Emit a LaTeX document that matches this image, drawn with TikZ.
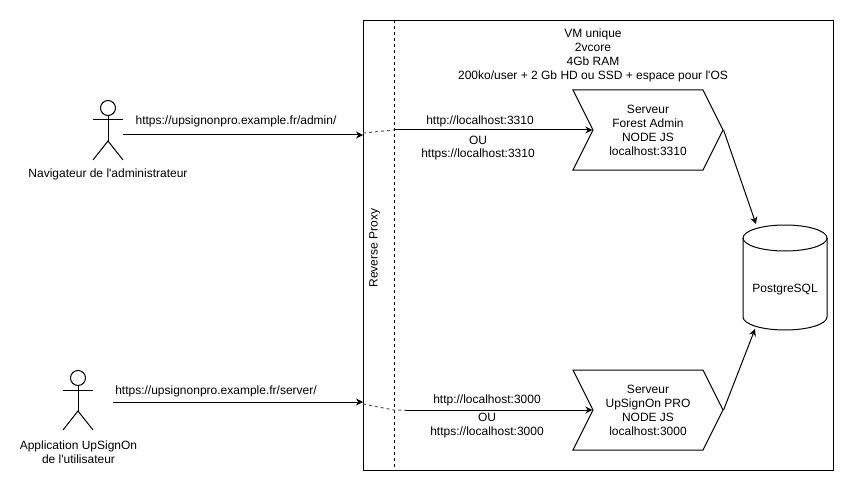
\documentclass[tikz,border=0pt]{standalone}
\usepackage{fontspec}
\setmainfont{Liberation Sans}
\usetikzlibrary{arrows.meta}
\usetikzlibrary{shapes.symbols}

\tikzset{
    txt/.style={align=center, inner sep=0pt, font=\fontsize{12}{14}\selectfont},
    lbl/.style={txt, yshift=-0.7pt},
    server/.style={txt, draw, shape=signal, signal from=west, signal to=east, signal pointer angle=126.87, minimum width=150pt, minimum height=80pt},
    database/.style={txt, minimum width=84pt, minimum height=79pt},
    link/.style={-{Stealth[length=7pt,width=7pt]}},
    proxy/.style={dash pattern=on 3pt off 3pt, gray!70!black},
    actor/.pic={
        \draw (0,-8) circle (7.5pt);
        \draw (0,0) -- (0,25);
        \draw (-15,4) -- (15,4);
        \draw (-15,44) -- (0,25) -- (15,44);
    }
}

\begin{document}
\begin{tikzpicture}[x=1pt,y=-1pt,line width=1pt]
    \useasboundingbox (0,0) rectangle (854,492);

    % vm box and proxy line
    \node[draw, minimum width=470pt, minimum height=450pt, anchor=north west] (vm) at (363,20) {};
    \coordinate (proxyTop) at (394,20);
    \coordinate (proxyBottom) at (394,470);
    \draw[dash pattern=on 3pt off 3pt] (proxyTop) -- (proxyBottom);
    \node[txt, rotate=90] (proxyLabel) at (374.7,248) {Reverse Proxy};
    \node[lbl] (vmLabel) at (593,55) {VM unique\\2vcore\\4Gb RAM\\200ko/user + 2 Gb HD ou SSD + espace pour l\textquotesingle OS};

    % actors
    \pic at (108,116) {actor};
    \pic at (78,386) {actor};
    \node[lbl] (adminLabel) at (108,174) {Navigateur de l\textquotesingle administrateur};
    \node[lbl] (userLabel) at (78.5,451.5) {Application UpSignOn\\de l\textquotesingle utilisateur};

    % servers and database
    \node[server] (forest) at (648,130) {Serveur\\Forest Admin\\NODE JS\\localhost:3310};
    \node[server] (upsignon) at (648,410) {Serveur\\UpSignOn PRO\\NODE JS\\localhost:3000};
    \node[database] (db) at (785,290) {PostgreSQL};
    \draw (785,238) ellipse (42pt and 13pt);
    \draw (743,238) -- (743,317) arc[start angle=180, end angle=360, x radius=42pt, y radius=13pt] -- (827,238);

    % admin side
    \coordinate (adminOut) at (123,135);
    \coordinate (adminIn) at (363,135);
    \coordinate (adminEdge) at (363,133);
    \coordinate (adminProxy) at (394,130);
    \draw[link] (adminOut) -- (adminIn);
    \draw[proxy] (adminEdge) -- (adminProxy);
    \draw[link] (adminProxy) -- (forest.west);
    \node[lbl] (adminUrl) at (236,121) {https://upsignonpro.example.fr/admin/};
    \node[lbl] (forestHttp) at (480,121) {http://localhost:3310};
    \node[lbl] (forestOu) at (478,140) {OU};
    \node[lbl] (forestHttps) at (478,154) {https://localhost:3310};

    % user side
    \coordinate (userOut) at (113,402);
    \coordinate (userIn) at (363,402);
    \coordinate (userEdge) at (363,404);
    \coordinate (userProxy) at (405,410);
    \draw[link] (userOut) -- (userIn);
    \draw[proxy] (userEdge) -- (394,410) -- (userProxy);
    \draw[link] (userProxy) -- (upsignon.west);
    \node[lbl] (userUrl) at (216,391) {https://upsignonpro.example.fr/server/};
    \node[lbl] (upsignonHttp) at (487,400) {http://localhost:3000};
    \node[lbl] (upsignonOu) at (487,417) {OU};
    \node[lbl] (upsignonHttps) at (487,432) {https://localhost:3000};

    % database links
    \coordinate (dbTop) at (756,224);
    \coordinate (dbBottom) at (755,329);
    \draw[link] (forest.east) -- (dbTop);
    \draw[link] (upsignon.east) -- (dbBottom);
\end{tikzpicture}
\end{document}
